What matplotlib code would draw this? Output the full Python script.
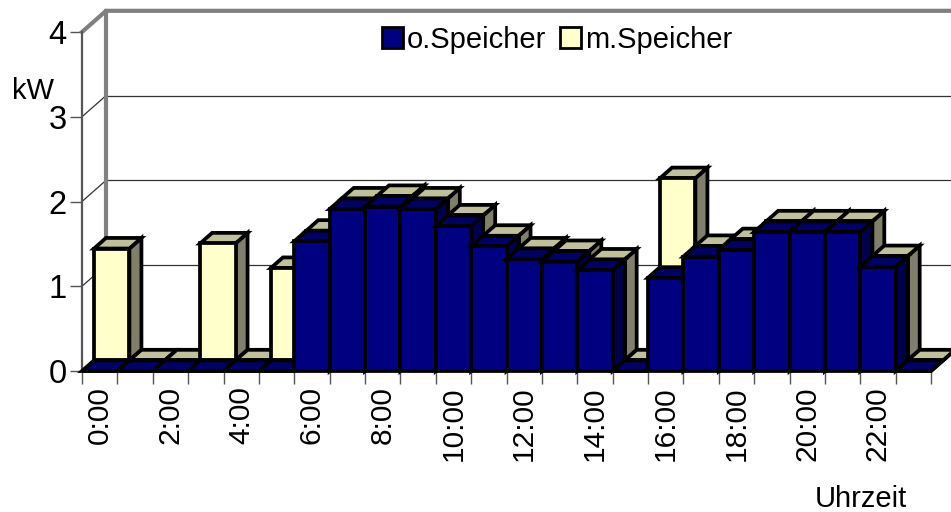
import matplotlib
matplotlib.use('Agg')
import matplotlib.pyplot as plt
from matplotlib.patches import Polygon, Patch

plt.rcParams['font.family'] = ['Liberation Sans', 'DejaVu Sans']

# values per hour
hours = [f'{h}:00' for h in range(24)]
o_speicher = [0, 0, 0, 0, 0, 0, 1.53, 1.91, 1.94, 1.91, 1.71, 1.47,
              1.32, 1.29, 1.19, 0, 1.10, 1.35, 1.43, 1.64, 1.64, 1.64, 1.23, 0]
m_speicher = [1.32, 0, 0, 1.38, 0, 1.09, 1.53, 1.91, 1.94, 1.91, 1.71, 1.47,
              1.32, 1.29, 1.19, 0, 2.15, 1.35, 1.43, 1.64, 1.64, 1.64, 1.23, 0]
y_ticks = [0, 1, 2, 3, 4]

W, H = 951, 512
fig = plt.figure(figsize=(W / 100, H / 100), dpi=100)
ax = fig.add_axes([82 / W, 1 - 371 / H, (931 - 82) / W, (371 - 32) / H])
ax.set_xlim(0, 24)
ax.set_ylim(0, 4)
ax.patch.set_visible(False)
for s in ax.spines.values():
    s.set_visible(False)

# depth of one series row, in data units
dx = 0.34
dy = 0.125
lw = 2.7


def bar3d(i, v, row, front, top, side):
    x0, x1 = i + row * dx, i + 1 + row * dx
    y0, y1 = row * dy, v + row * dy
    faces = [
        ([(x1, y0), (x1 + dx, y0 + dy), (x1 + dx, y1 + dy), (x1, y1)], side),
        ([(x0, y1), (x1, y1), (x1 + dx, y1 + dy), (x0 + dx, y1 + dy)], top),
        ([(x0, y0), (x1, y0), (x1, y1), (x0, y1)], front),
    ]
    for pts, col in faces:
        ax.add_patch(Polygon(pts, closed=True, facecolor=col, edgecolor='black',
                             lw=lw, joinstyle='miter', clip_on=False, zorder=3 + (1 - row)))


# back wall and gridlines
wall_x = 2 * dx
wall_y = 2 * dy
for t in y_ticks[1:-1]:
    ax.plot([wall_x, 24 + wall_x], [t + wall_y] * 2, color='#333333', lw=0.9, clip_on=False, zorder=1)
    ax.plot([0, wall_x], [t, t + wall_y], color='#333333', lw=0.9, clip_on=False, zorder=1)
top_y = y_ticks[-1]
ax.plot([0, wall_x, 24 + wall_x], [top_y, top_y + wall_y, top_y + wall_y], color='#808080', lw=3,
        clip_on=False, zorder=2, solid_joinstyle='miter')
ax.plot([wall_x, wall_x], [wall_y, top_y + wall_y], color='#808080', lw=3, clip_on=False, zorder=2)
ax.plot([0, 0], [0, top_y], color='#555555', lw=1.6, clip_on=False, zorder=2)
ax.plot([0, 24], [0, 0], color='#555555', lw=1.6, clip_on=False, zorder=2)

# rear row first, then the front row
for i, v in enumerate(m_speicher):
    bar3d(i, v, 1, '#FFFFCC', '#C0C09A', '#80806A')
for i, v in enumerate(o_speicher):
    bar3d(i, v, 0, '#000080', '#000066', '#00004D')

ax.set_yticks(y_ticks)
ax.set_xticks(range(25))
ax.set_xticklabels([])
ax.set_xticks([i + 0.5 for i in range(0, 24, 2)], minor=True)
ax.set_xticklabels(hours[::2], minor=True, rotation=90, fontsize=21.5)
ax.tick_params(axis='x', which='major', length=9, width=1, color='#555555')
ax.tick_params(axis='x', which='minor', length=0, pad=11)
ax.tick_params(axis='y', length=9, width=1, color='#555555', labelsize=23.5, pad=2)

fig.text(12 / W, 1 - 91 / H, 'kW', fontsize=21, va='center', ha='left')
fig.text(861 / W, 1 - 499 / H, 'Uhrzeit', fontsize=21, va='center', ha='center')

handles = [Patch(facecolor='#000080', edgecolor='black', lw=2, label='o.Speicher'),
           Patch(facecolor='#FFFFCC', edgecolor='black', lw=2, label='m.Speicher')]
fig.legend(handles=handles, ncols=2, frameon=False, fontsize=21, loc='center',
           bbox_to_anchor=(557 / W, 1 - 40 / H), handlelength=0.72, handleheight=0.72,
           handletextpad=0.15, columnspacing=0.45, borderpad=0, borderaxespad=0)

fig.savefig('out.png', dpi=100)
